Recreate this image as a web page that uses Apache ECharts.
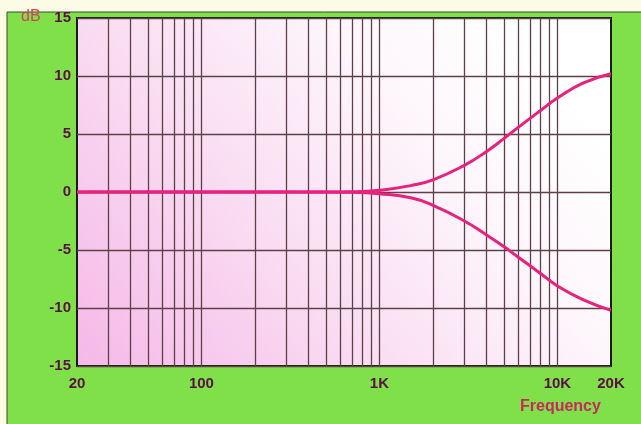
<!DOCTYPE html>
<html><head><meta charset="utf-8">
<script src="https://cdn.jsdelivr.net/npm/echarts@6/dist/echarts.min.js"></script>
<style>html,body{margin:0;padding:0;background:#fbfbe6}#c{width:641px;height:424px}</style>
</head><body><div id="c"></div>
<script>
// Data
const freqs = [20, 500, 700, 1000, 1500, 2000, 3000, 4000, 5000, 6000, 8000, 10000, 14000, 20000];
const boost = [0, 0, 0.02, 0.15, 0.55, 1.05, 2.3, 3.5, 4.6, 5.55, 7.0, 8.1, 9.4, 10.2];
const cut   = [0, 0, -0.02, -0.15, -0.5, -1.15, -2.5, -3.7, -4.7, -5.6, -7.0, -8.1, -9.3, -10.2];
const xTickLabels = {20: '20', 100: '100', 1000: '1K', 10000: '10K', 20000: '20K'};
const yTicks = [-15, -10, -5, 0, 5, 10, 15];
const vGrid = [30,40,50,60,70,80,90,100,200,300,400,500,600,700,800,900,1000,2000,3000,4000,5000,6000,7000,8000,9000,10000];

const chart = echarts.init(document.getElementById('c'), null, {renderer: 'canvas'});
const labelColor = '#5a0f45';
const curveColor = '#e8207e';
const gridColor = '#5e4048';
chart.setOption({
  backgroundColor: '#fbfbe6',
  animation: false,
  graphic: [
    {type: 'rect', z: -10, shape: {x: 7, y: 12, width: 640, height: 420},
     style: {fill: '#7fe04a', stroke: '#3a4a30', lineWidth: 1}},
    {type: 'text', left: 21, top: 9, z: 10,
     style: {text: 'dB', fill: '#d8405a', font: '16px "Liberation Sans", Arial, sans-serif'}},
    {type: 'text', left: 520, top: 399, z: 10,
     style: {text: 'Frequency', fill: '#c8285e', font: 'bold 16px "Liberation Sans", Arial, sans-serif'}}
  ],
  grid: {
    left: 77, right: 30, top: 18, bottom: 58, show: true,
    borderColor: '#1a1a1a', borderWidth: 2,
    backgroundColor: new echarts.graphic.LinearGradient(0, 1, 0.8, 0, [
      {offset: 0, color: '#f5b8e8'},
      {offset: 0.45, color: '#fadff3'},
      {offset: 0.75, color: '#fdf6fb'},
      {offset: 1, color: '#ffffff'}
    ])
  },
  xAxis: {
    type: 'log', logBase: 10, min: 20, max: 20000,
    axisLine: {show: false}, axisTick: {show: false},
    splitLine: {show: false},
    axisLabel: {
      color: labelColor, fontWeight: 'bold', fontSize: 15, margin: 10,
      fontFamily: '"Liberation Sans", Arial, sans-serif',
      showMinLabel: true, showMaxLabel: true,
      formatter: v => xTickLabels[Math.round(v)] || ''
    }
  },
  yAxis: {
    type: 'value', min: yTicks[0], max: yTicks[yTicks.length - 1], interval: 5,
    axisLine: {show: false}, axisTick: {show: false},
    splitLine: {show: true, lineStyle: {color: gridColor, width: 1.3}},
    axisLabel: {
      color: labelColor, fontWeight: 'bold', fontSize: 15, margin: 6,
      fontFamily: '"Liberation Sans", Arial, sans-serif'
    }
  },
  series: [
    {
      type: 'line', data: freqs.map((f, i) => [f, boost[i]]), smooth: 0.5,
      symbol: 'none', lineStyle: {color: curveColor, width: 3}, z: 5,
      markLine: {
        silent: true, symbol: 'none', animation: false,
        label: {show: false},
        lineStyle: {color: gridColor, width: 1.3, type: 'solid'},
        data: vGrid.map(v => ({xAxis: v}))
      }
    },
    {
      type: 'line', data: freqs.map((f, i) => [f, cut[i]]), smooth: 0.5,
      symbol: 'none', lineStyle: {color: curveColor, width: 3}, z: 5
    }
  ]
});
</script></body></html>
